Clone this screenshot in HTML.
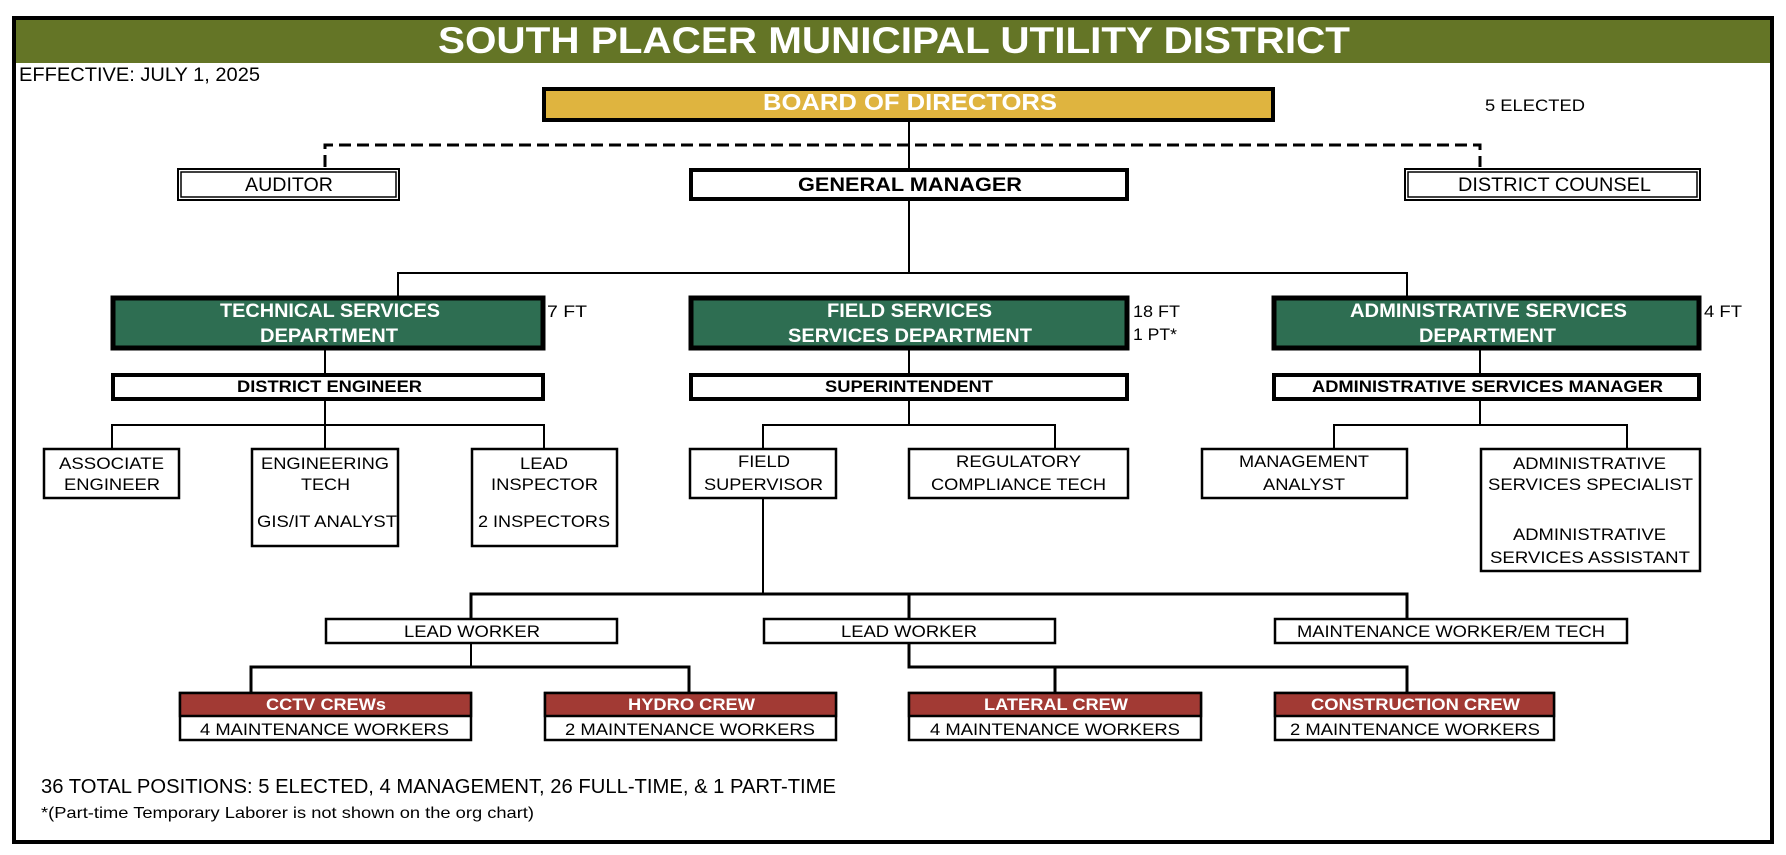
<!DOCTYPE html>
<html><head><meta charset="utf-8"><style>
html,body{margin:0;padding:0;background:#fff;}
svg{display:block;}
text{font-family:"Liberation Sans",Arial,sans-serif;}
.b{font-weight:bold;}
.w{fill:#fff;}
</style></head><body>
<svg width="1786" height="855" viewBox="0 0 1786 855" xmlns="http://www.w3.org/2000/svg">
<rect width="1786" height="855" fill="#fff"/>
<!-- outer border -->
<rect x="14" y="18" width="1758" height="824" fill="none" stroke="#000" stroke-width="4"/>
<rect x="16" y="20" width="1754" height="43" fill="#647526"/>
<text x="438" y="53" font-size="37" class="b w" textLength="912" lengthAdjust="spacingAndGlyphs">SOUTH PLACER MUNICIPAL UTILITY DISTRICT</text>
<text x="19" y="81" font-size="19" textLength="241" lengthAdjust="spacingAndGlyphs">EFFECTIVE: JULY 1, 2025</text>

<!-- connectors -->
<g stroke="#000" fill="none">
<path d="M325 167 V145 H1480 V167" stroke-width="3" stroke-dasharray="12,6"/>
<path d="M909 122 V273" stroke-width="2"/>
<path d="M398 296 V273 H1407 V296" stroke-width="2"/>
<path d="M325 350 V373 M909 350 V373 M1480 350 V373" stroke-width="2"/>
<path d="M325 401 V425 M909 401 V425 M1480 401 V425" stroke-width="2"/>
<path d="M112 448 V425 H544 V448 M325 425 V448" stroke-width="2"/>
<path d="M763 448 V425 H1055 V448" stroke-width="2"/>
<path d="M1334 448 V425 H1627 V448" stroke-width="2"/>
<path d="M763 498 V594" stroke-width="2"/>
<path d="M471 618 V594 H1407 V618 M909 594 V618" stroke-width="3"/>
<path d="M471 644 V667" stroke-width="2"/>
<path d="M251 692 V667 H689 V692" stroke-width="3"/>
<path d="M909 644 V667 H1407 V692 M1055 667 V692" stroke-width="3"/>
</g>

<!-- Board -->
<rect x="544" y="89" width="729" height="31" fill="#dfb43f" stroke="#000" stroke-width="4"/>
<text x="763" y="110" font-size="23" class="b w" textLength="294" lengthAdjust="spacingAndGlyphs">BOARD OF DIRECTORS</text>
<text x="1485" y="111" font-size="17" textLength="100" lengthAdjust="spacingAndGlyphs">5 ELECTED</text>

<!-- Auditor / GM / Counsel -->
<g fill="#fff" stroke="#000">
<rect x="178" y="169" width="221" height="31" stroke-width="2"/>
<rect x="181" y="172" width="215" height="25" stroke-width="1.5"/>
<rect x="1405" y="169" width="295" height="31" stroke-width="2"/>
<rect x="1408" y="172" width="289" height="25" stroke-width="1.5"/>
<rect x="691" y="170" width="436" height="29" stroke-width="4"/>
</g>
<text x="245" y="191" font-size="19" textLength="88" lengthAdjust="spacingAndGlyphs">AUDITOR</text>
<text x="798" y="191" font-size="19" class="b" textLength="224" lengthAdjust="spacingAndGlyphs">GENERAL MANAGER</text>
<text x="1458" y="191" font-size="19" textLength="193" lengthAdjust="spacingAndGlyphs">DISTRICT COUNSEL</text>

<!-- Departments -->
<g fill="#2e6e52" stroke="#000" stroke-width="5">
<rect x="113" y="298" width="430" height="50"/>
<rect x="691" y="298" width="436" height="50"/>
<rect x="1274" y="298" width="425" height="50"/>
</g>
<g class="b w" font-size="19">
<text x="220" y="317" textLength="220" lengthAdjust="spacingAndGlyphs">TECHNICAL SERVICES</text>
<text x="260" y="342" textLength="138" lengthAdjust="spacingAndGlyphs">DEPARTMENT</text>
<text x="827" y="317" textLength="165" lengthAdjust="spacingAndGlyphs">FIELD SERVICES</text>
<text x="788" y="342" textLength="244" lengthAdjust="spacingAndGlyphs">SERVICES DEPARTMENT</text>
<text x="1350" y="317" textLength="277" lengthAdjust="spacingAndGlyphs">ADMINISTRATIVE SERVICES</text>
<text x="1419" y="342" textLength="137" lengthAdjust="spacingAndGlyphs">DEPARTMENT</text>
</g>
<g font-size="17">
<text x="547" y="317" textLength="40" lengthAdjust="spacingAndGlyphs">7 FT</text>
<text x="1133" y="317" textLength="47" lengthAdjust="spacingAndGlyphs">18 FT</text>
<text x="1133" y="340" textLength="44" lengthAdjust="spacingAndGlyphs">1 PT*</text>
<text x="1704" y="317" textLength="38" lengthAdjust="spacingAndGlyphs">4 FT</text>
</g>

<!-- Managers -->
<g fill="#fff" stroke="#000" stroke-width="4">
<rect x="113" y="375" width="430" height="24"/>
<rect x="691" y="375" width="436" height="24"/>
<rect x="1274" y="375" width="425" height="24"/>
</g>
<g class="b" font-size="17">
<text x="237" y="392" textLength="185" lengthAdjust="spacingAndGlyphs">DISTRICT ENGINEER</text>
<text x="825" y="392" textLength="168" lengthAdjust="spacingAndGlyphs">SUPERINTENDENT</text>
<text x="1312" y="392" textLength="351" lengthAdjust="spacingAndGlyphs">ADMINISTRATIVE SERVICES MANAGER</text>
</g>

<!-- Third level boxes -->
<g fill="#fff" stroke="#000" stroke-width="2.5">
<rect x="44" y="449" width="135" height="49"/>
<rect x="252" y="449" width="146" height="97"/>
<rect x="472" y="449" width="145" height="97"/>
<rect x="690" y="449" width="146" height="49"/>
<rect x="909" y="449" width="219" height="49"/>
<rect x="1202" y="449" width="205" height="49"/>
<rect x="1481" y="449" width="219" height="122"/>
</g>
<g font-size="17">
<text x="59" y="469" textLength="105" lengthAdjust="spacingAndGlyphs">ASSOCIATE</text>
<text x="64" y="490" textLength="96" lengthAdjust="spacingAndGlyphs">ENGINEER</text>
<text x="261" y="469" textLength="128" lengthAdjust="spacingAndGlyphs">ENGINEERING</text>
<text x="301" y="490" textLength="49" lengthAdjust="spacingAndGlyphs">TECH</text>
<text x="257" y="527" textLength="140" lengthAdjust="spacingAndGlyphs">GIS/IT ANALYST</text>
<text x="520" y="469" textLength="48" lengthAdjust="spacingAndGlyphs">LEAD</text>
<text x="491" y="490" textLength="107" lengthAdjust="spacingAndGlyphs">INSPECTOR</text>
<text x="478" y="527" textLength="132" lengthAdjust="spacingAndGlyphs">2 INSPECTORS</text>
<text x="738" y="467" textLength="52" lengthAdjust="spacingAndGlyphs">FIELD</text>
<text x="704" y="490" textLength="119" lengthAdjust="spacingAndGlyphs">SUPERVISOR</text>
<text x="956" y="467" textLength="125" lengthAdjust="spacingAndGlyphs">REGULATORY</text>
<text x="931" y="490" textLength="175" lengthAdjust="spacingAndGlyphs">COMPLIANCE TECH</text>
<text x="1239" y="467" textLength="130" lengthAdjust="spacingAndGlyphs">MANAGEMENT</text>
<text x="1263" y="490" textLength="82" lengthAdjust="spacingAndGlyphs">ANALYST</text>
<text x="1513" y="469" textLength="153" lengthAdjust="spacingAndGlyphs">ADMINISTRATIVE</text>
<text x="1488" y="490" textLength="205" lengthAdjust="spacingAndGlyphs">SERVICES SPECIALIST</text>
<text x="1513" y="540" textLength="153" lengthAdjust="spacingAndGlyphs">ADMINISTRATIVE</text>
<text x="1490" y="563" textLength="200" lengthAdjust="spacingAndGlyphs">SERVICES ASSISTANT</text>
</g>

<!-- Lead workers -->
<g fill="#fff" stroke="#000" stroke-width="2.5">
<rect x="326" y="619" width="291" height="24"/>
<rect x="764" y="619" width="291" height="24"/>
<rect x="1275" y="619" width="352" height="24"/>
</g>
<g font-size="17">
<text x="404" y="637" textLength="136" lengthAdjust="spacingAndGlyphs">LEAD WORKER</text>
<text x="841" y="637" textLength="136" lengthAdjust="spacingAndGlyphs">LEAD WORKER</text>
<text x="1297" y="637" textLength="308" lengthAdjust="spacingAndGlyphs">MAINTENANCE WORKER/EM TECH</text>
</g>

<!-- Crews -->
<g stroke="#000" stroke-width="2.5">
<rect x="180" y="693" width="291" height="47" fill="#fff"/>
<rect x="545" y="693" width="291" height="47" fill="#fff"/>
<rect x="909" y="693" width="292" height="47" fill="#fff"/>
<rect x="1275" y="693" width="279" height="47" fill="#fff"/>
<rect x="180" y="693" width="291" height="23" fill="#a23a34"/>
<rect x="545" y="693" width="291" height="23" fill="#a23a34"/>
<rect x="909" y="693" width="292" height="23" fill="#a23a34"/>
<rect x="1275" y="693" width="279" height="23" fill="#a23a34"/>
</g>
<g class="b w" font-size="17">
<text x="266" y="710" textLength="120" lengthAdjust="spacingAndGlyphs">CCTV CREWs</text>
<text x="628" y="710" textLength="127" lengthAdjust="spacingAndGlyphs">HYDRO CREW</text>
<text x="984" y="710" textLength="144" lengthAdjust="spacingAndGlyphs">LATERAL CREW</text>
<text x="1311" y="710" textLength="209" lengthAdjust="spacingAndGlyphs">CONSTRUCTION CREW</text>
</g>
<g font-size="17">
<text x="200" y="735" textLength="249" lengthAdjust="spacingAndGlyphs">4 MAINTENANCE WORKERS</text>
<text x="565" y="735" textLength="250" lengthAdjust="spacingAndGlyphs">2 MAINTENANCE WORKERS</text>
<text x="930" y="735" textLength="250" lengthAdjust="spacingAndGlyphs">4 MAINTENANCE WORKERS</text>
<text x="1290" y="735" textLength="250" lengthAdjust="spacingAndGlyphs">2 MAINTENANCE WORKERS</text>
</g>

<text x="41" y="793" font-size="20" textLength="795" lengthAdjust="spacingAndGlyphs">36 TOTAL POSITIONS: 5 ELECTED, 4 MANAGEMENT, 26 FULL-TIME, &amp; 1 PART-TIME</text>
<text x="41" y="818" font-size="16" textLength="493" lengthAdjust="spacingAndGlyphs">*(Part-time Temporary Laborer is not shown on the org chart)</text>
</svg>
</body></html>
